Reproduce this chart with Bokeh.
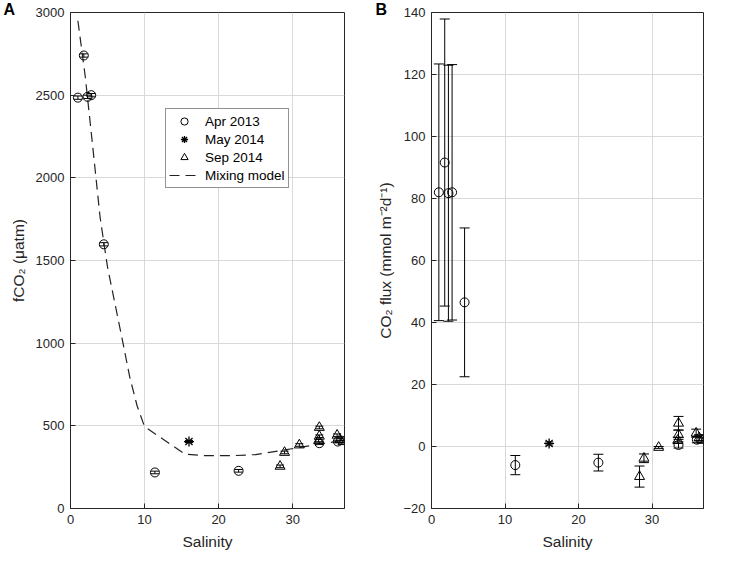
from bokeh.plotting import figure
from bokeh.layouts import row
from bokeh.models import (Range1d, FixedTicker, Whisker, TeeHead, ColumnDataSource,
                          Legend, LegendItem)
from bokeh.embed import file_html
from bokeh.resources import INLINE

# ---------------- data ----------------
# Apr 2013 (circles)
apr_sal = [1.0, 1.8, 2.3, 2.8, 4.5, 11.4, 22.7, 33.6, 36.1]
apr_fco2 = [2485, 2740, 2490, 2500, 1598, 218, 228, 395, 405]
apr_fco2_err = [10, 10, 10, 10, 10, 8, 8, 8, 8]
apr_flux = [82.0, 91.6, 81.7, 82.0, 46.5, -6.0, -5.2, 0.5, 2.2]
apr_flux_err = [41.4, 46.3, 41.3, 41.2, 24.0, 3.1, 2.7, 1.0, 1.0]

# May 2014 (asterisk)
may_sal = [16.0]
may_fco2 = [405]
may_fco2_err = [6]
may_flux = [1.0]
may_flux_err = [0.5]

# Sep 2014 (triangles)
sep_sal = [28.3, 28.9, 30.9, 33.6, 33.6, 33.5, 36.0, 36.4, 36.8]
sep_fco2 = [255, 339, 384, 490, 437, 410, 443, 417, 404]
sep_fco2_err = [8, 8, 8, 8, 8, 8, 8, 8, 8]
sep_flux = [-9.7, -3.8, -0.3, 7.5, 3.8, 2.0, 4.3, 2.8, 2.0]
sep_flux_err = [3.4, 1.4, 0.3, 2.2, 1.5, 1.0, 1.3, 1.0, 0.8]

# Mixing model
model_sal = [1, 2, 3, 4, 5, 6, 7, 8, 9, 10, 15.5, 18, 22, 25, 28, 31, 34, 36.5]
model_fco2 = [2950, 2610, 2190, 1760, 1460, 1240, 1020, 795, 620, 495,
              328, 320, 320, 326, 347, 370, 392, 410]

x_ticks = [0, 10, 20, 30]
fco2_ticks = [0, 500, 1000, 1500, 2000, 2500, 3000]
flux_ticks = [-20, 0, 20, 40, 60, 80, 100, 120, 140]

FONT = "Liberation Sans"
INK = "#262626"
FRAME_H = 496


def make_fig(yr, yticks, ylabel, left_b, frame_w, right_b, tag, tag_offset):
    p = figure(frame_width=frame_w, frame_height=FRAME_H,
               x_range=Range1d(0, 37), y_range=Range1d(*yr),
               output_backend="svg", toolbar_location=None,
               min_border_left=left_b, min_border_right=right_b,
               min_border_top=12, min_border_bottom=51,
               title=tag, title_location="above")
    p.title.align = "left"
    p.title.offset = tag_offset
    p.title.standoff = -10
    p.title.text_font = FONT
    p.title.text_font_size = "16px"
    p.title.text_font_style = "bold"
    p.title.text_color = "black"
    p.xaxis.ticker = FixedTicker(ticks=x_ticks)
    p.yaxis.ticker = FixedTicker(ticks=yticks)
    p.xaxis.axis_label = "Salinity"
    p.yaxis.axis_label = ylabel
    for ax in p.axis:
        ax.major_tick_in = 5
        ax.major_tick_out = 0
        ax.minor_tick_in = 0
        ax.minor_tick_out = 0
        ax.major_label_text_font = FONT
        ax.major_label_text_font_size = "13px"
        ax.major_label_text_color = INK
        ax.axis_line_color = INK
        ax.major_tick_line_color = INK
        ax.axis_label_text_font = FONT
        ax.axis_label_text_font_size = "15.5px"
        ax.axis_label_text_font_style = "normal"
        ax.axis_label_text_color = INK
        ax.major_label_standoff = 6
        ax.axis_label_standoff = 6
    p.grid.grid_line_color = "#d9d9d9"
    p.outline_line_color = INK
    p.outline_line_alpha = 1
    p.background_fill_color = "white"
    p.border_fill_color = "white"
    return p


def errbars(p, xs, ys, errs, head):
    src = ColumnDataSource(dict(x=xs,
                                lo=[y - e for y, e in zip(ys, errs)],
                                hi=[y + e for y, e in zip(ys, errs)]))
    w = Whisker(base="x", lower="lo", upper="hi", source=src, dimension="height",
                line_color="black", line_width=1,
                lower_head=TeeHead(size=head, line_color="black", line_width=1),
                upper_head=TeeHead(size=head, line_color="black", line_width=1))
    p.add_layout(w)


# ---------------- panel A ----------------
p1 = make_fig((0, 3000), fco2_ticks, "fCO\u2082 (\u03bcatm)", 70, 274, 18, "A", -67)
r_mod = p1.line(model_sal, model_fco2, line_color="#222222", line_width=1.2,
                line_dash="10 6")
errbars(p1, apr_sal, apr_fco2, apr_fco2_err, 8)
errbars(p1, may_sal, may_fco2, may_fco2_err, 8)
errbars(p1, sep_sal, sep_fco2, sep_fco2_err, 8)
r_apr = p1.scatter(apr_sal, apr_fco2, marker="circle", size=9, line_color="black",
                   fill_alpha=0, line_width=1)
r_may = p1.scatter(may_sal, may_fco2, marker="asterisk", size=10, line_color="black",
                   line_width=1.3)
r_sep = p1.scatter(sep_sal, sep_fco2, marker="triangle", size=10, line_color="black",
                   fill_alpha=0, line_width=1)

legend = Legend(items=[
    LegendItem(label="Apr 2013", renderers=[r_apr]),
    LegendItem(label="May 2014", renderers=[r_may]),
    LegendItem(label="Sep 2014", renderers=[r_sep]),
    LegendItem(label="Mixing model", renderers=[r_mod]),
], location=(95, 320))
legend.border_line_color = INK
legend.border_line_width = 1
legend.background_fill_color = "white"
legend.background_fill_alpha = 1
legend.label_text_font = FONT
legend.label_text_font_size = "13.5px"
legend.label_text_color = "black"
legend.glyph_width = 30
legend.glyph_height = 18
legend.label_height = 18
legend.spacing = 0
legend.padding = 3
legend.label_standoff = 6
legend.margin = 0
p1.add_layout(legend)

# ---------------- panel B ----------------
p2 = make_fig((-20, 140), flux_ticks, "CO\u2082 flux (mmol m\u207b\u00b2d\u207b\u00b9)",
              69, 272, 13, "B", -56)
errbars(p2, apr_sal, apr_flux, apr_flux_err, 10)
errbars(p2, may_sal, may_flux, may_flux_err, 8)
errbars(p2, sep_sal, sep_flux, sep_flux_err, 10)
p2.scatter(apr_sal, apr_flux, marker="circle", size=9, line_color="black",
           fill_alpha=0, line_width=1)
p2.scatter(may_sal, may_flux, marker="asterisk", size=10, line_color="black",
           line_width=1.3)
p2.scatter(sep_sal, sep_flux, marker="triangle", size=10, line_color="black",
           fill_alpha=0, line_width=1)

layout = row(p1, p2)
open("out.html", "w").write(file_html(layout, INLINE))
